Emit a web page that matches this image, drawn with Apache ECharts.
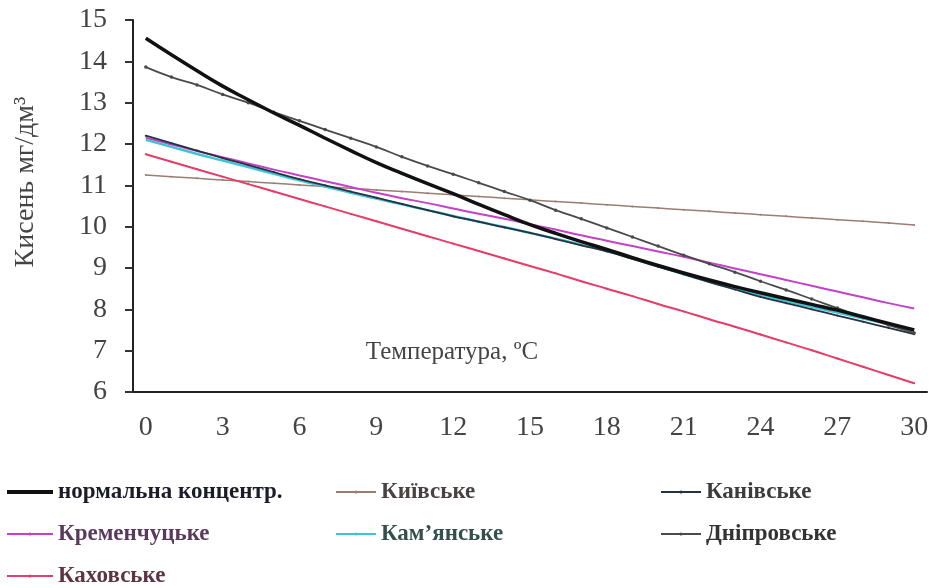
<!DOCTYPE html>
<html>
<head>
<meta charset="utf-8">
<script src="https://cdn.jsdelivr.net/npm/echarts@6.0.0/dist/echarts.min.js"></script>
<style>
  html, body { margin: 0; padding: 0; background: #fff; }
  #chart { width: 936px; height: 588px; }
</style>
</head>
<body>
<div id="chart"></div>
<script>
// температура, ºC (категорії осі X)
const temps = ['0','1','2','3','4','5','6','7','8','9','10','11','12','13','14','15',
  '16','17','18','19','20','21','22','23','24','25','26','27','28','29','30']

// значення кисню, мг/дм3
const normal = [14.56,14.16,13.77,13.40,13.07,12.75,12.45,12.14,11.84,11.55,11.29,11.04,10.80,10.54,10.29,10.05,
  9.84,9.64,9.45,9.25,9.06,8.88,8.71,8.55,8.40,8.26,8.12,7.98,7.82,7.66,7.50]
const kyivske = [11.25,11.21,11.17,11.13,11.09,11.05,11.01,10.97,10.93,10.89,10.85,10.81,10.77,10.73,10.69,10.65,
  10.61,10.57,10.53,10.49,10.45,10.41,10.37,10.33,10.29,10.25,10.21,10.17,10.13,10.09,10.04]
const kanivske = [12.20,12.02,11.84,11.66,11.49,11.32,11.15,11.00,10.85,10.70,10.55,10.40,10.25,10.12,9.98,9.85,
  9.70,9.55,9.40,9.22,9.03,8.85,8.66,8.48,8.30,8.15,8.00,7.85,7.70,7.55,7.40]
const kremenchutske = [12.15,11.99,11.83,11.68,11.53,11.38,11.24,11.10,10.96,10.82,10.69,10.57,10.44,10.31,10.19,10.06,
  9.93,9.79,9.66,9.53,9.40,9.27,9.13,8.99,8.85,8.71,8.57,8.43,8.29,8.15,8.02]
const kamianske = [12.10,11.93,11.76,11.60,11.44,11.28,11.12,10.97,10.82,10.68,10.54,10.40,10.26,10.12,9.99,9.85,
  9.71,9.56,9.41,9.23,9.04,8.85,8.67,8.50,8.35,8.20,8.06,7.92,7.78,7.64,7.50]
const dniprovske = [13.86,13.62,13.43,13.20,13.00,12.77,12.56,12.35,12.14,11.93,11.69,11.47,11.27,11.06,10.85,10.64,
  10.40,10.19,9.97,9.75,9.53,9.31,9.10,8.90,8.68,8.47,8.25,8.03,7.81,7.62,7.43]
const kakhovske = [11.75,11.57,11.39,11.21,11.03,10.85,10.67,10.49,10.31,10.13,9.95,9.77,9.59,9.41,9.23,9.05,
  8.87,8.68,8.50,8.32,8.13,7.95,7.76,7.58,7.39,7.20,7.01,6.81,6.61,6.41,6.21]

const serif = '"Liberation Serif", "DejaVu Serif", serif'

const chart = echarts.init(document.getElementById('chart'))

// легенда: три колонки, як в оригіналі
const legendBase = {
  orient: 'vertical',
  top: 475,
  height: 140,
  itemWidth: 40,
  itemHeight: 4,
  itemGap: 18,
  textStyle: { fontFamily: serif, fontSize: 23, fontWeight: 'bold', color: '#333', lineHeight: 24 }
}

const line = (name, data, color, width, symbolSize, z) => ({
  name,
  type: 'line',
  data,
  z,
  smooth: true,
  symbol: symbolSize ? 'circle' : 'none',
  symbolSize: symbolSize || 0,
  itemStyle: { color },
  lineStyle: { color, width },
  emphasis: { disabled: true }
})

chart.setOption({
  animation: false,
  backgroundColor: '#fff',
  grid: { left: 133, right: 9, top: 20, bottom: 196 },
  legend: [
    Object.assign({}, legendBase, { left: 0, itemWidth: 46, data: [
      { name: 'нормальна концентр.', textStyle: { color: '#1c1c28' }, lineStyle: { width: 4 } },
      { name: 'Кременчуцьке', textStyle: { color: '#5a3a5c' } },
      { name: 'Каховське', textStyle: { color: '#5c3444' } }
    ] }),
    Object.assign({}, legendBase, { left: 330, data: [
      { name: 'Київське', textStyle: { color: '#4a4242' } },
      { name: 'Кам\u2019янське', textStyle: { color: '#34504c' } }
    ] }),
    Object.assign({}, legendBase, { left: 655, data: [
      { name: 'Канівське', textStyle: { color: '#3c3c3c' } },
      { name: 'Дніпровське', textStyle: { color: '#333' } }
    ] })
  ],
  xAxis: {
    type: 'category',
    data: temps,
    boundaryGap: true,
    axisLine: { lineStyle: { color: '#222', width: 2 } },
    axisTick: { interval: 0, length: 6, lineStyle: { color: '#333', width: 2 } },
    axisLabel: { interval: 2, margin: 22, fontFamily: serif, fontSize: 28, color: '#444' },
    splitLine: { show: false }
  },
  yAxis: {
    type: 'value',
    min: 6,
    max: 15,
    interval: 1,
    axisLine: { show: true, lineStyle: { color: '#222', width: 2 } },
    axisTick: { show: true, length: 8, lineStyle: { color: '#333', width: 2 } },
    axisLabel: { margin: 26, fontFamily: serif, fontSize: 28, color: '#444' },
    splitLine: { show: false }
  },
  graphic: [
    {
      type: 'text',
      x: 452,
      y: 352,
      style: { text: 'Температура, ºC', font: '25px ' + serif, fill: '#444', align: 'center', verticalAlign: 'middle' }
    },
    {
      type: 'text',
      x: 26,
      y: 182,
      rotation: Math.PI / 2,
      style: { text: 'Кисень мг/дм³', font: '28px ' + serif, fill: '#444', align: 'center', verticalAlign: 'middle' }
    }
  ],
  series: [
    line('Київське', kyivske, '#9a7e74', 1.5, 2, 2),
    line('Кременчуцьке', kremenchutske, '#c442c8', 2, 0, 3),
    line('Кам\u2019янське', kamianske, '#3ec4d2', 2.5, 0, 4),
    line('Каховське', kakhovske, '#e63c68', 2, 2, 5),
    line('Канівське', kanivske, '#283044', 1.8, 2, 6),
    line('Дніпровське', dniprovske, '#4a4a4a', 1.8, 3.5, 7),
    line('нормальна концентр.', normal, '#111', 3.5, 0, 8)
  ]
})
</script>
</body>
</html>
